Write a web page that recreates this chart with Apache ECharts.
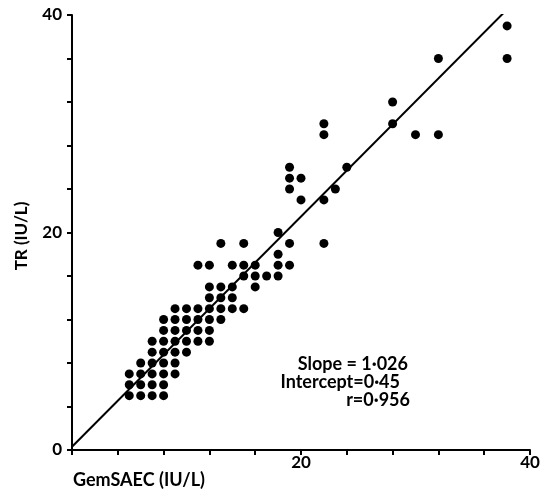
<!DOCTYPE html>
<html>
<head>
<meta charset="utf-8">
<script src="https://cdn.jsdelivr.net/npm/echarts@6/dist/echarts.min.js"></script>
<style>
  html, body { margin: 0; padding: 0; background: #fff; }
  #chart { width: 555px; height: 490px; }
</style>
</head>
<body>
<div id="chart"></div>
<script>
// GemSAEC (x) and TR (y) values, IU/L
const gemsaec = [
  5,6,7,8,
  5,6,7,8,
  5,6,7,8,9,
  6,7,8,9,
  7,8,9,10,
  7,8,9,10,11,12,
  8,9,10,11,12,
  8,9,10,11,12,13,
  9,10,11,12,13,14,15,
  12,13,14,
  12,13,14,16,
  15,16,17,18,
  11,12,14,15,16,18,19,
  18,
  13,15,19,22,
  18,
  20,22,
  19,23,
  19,20,
  19,24,
  22,30,32,
  22,28,
  28,
  32,38,
  38
];
const tr = [
  5,5,5,5,
  6,6,6,6,
  7,7,7,7,7,
  8,8,8,8,
  9,9,9,9,
  10,10,10,10,10,10,
  11,11,11,11,11,
  12,12,12,12,12,12,
  13,13,13,13,13,13,13,
  14,14,14,
  15,15,15,15,
  16,16,16,16,
  17,17,17,17,17,17,17,
  18,
  19,19,19,19,
  20,
  23,23,
  24,24,
  25,25,
  26,26,
  29,29,29,
  30,30,
  32,
  36,36,
  39
];
// drawn regression line end points
const lineX = [0, 37.7];
const lineY = [0.3, 40.2];
const yTickLabels = [0, 20, 40];
const xTickLabels = [20, 40];
const statsText = ['Slope = 1·026', 'Intercept=0·45', 'r=0·956'];

const FONT = 'Lato, "DejaVu Sans", sans-serif';
const chart = echarts.init(document.getElementById('chart'), null, { renderer: 'canvas' });

const points = gemsaec.map((x, i) => [x, tr[i]]);
const lineData = lineX.map((x, i) => [x, lineY[i]]);

chart.setOption({
  backgroundColor: '#ffffff',
  animation: false,
  grid: { left: 72, right: 25, top: 15, bottom: 40 },
  xAxis: {
    type: 'value', min: 0, max: 40, interval: 4,
    axisLine: { show: true, lineStyle: { color: '#000', width: 2 } },
    axisTick: { show: true, length: 5, lineStyle: { color: '#000', width: 2 } },
    splitLine: { show: false },
    axisLabel: {
      margin: 4, color: '#000', fontFamily: FONT, fontSize: 17, fontWeight: 'bold',
      formatter: v => xTickLabels.includes(v) ? String(v) : ''
    }
  },
  yAxis: {
    type: 'value', min: 0, max: 40, interval: 4,
    axisLine: { show: true, lineStyle: { color: '#000', width: 2 } },
    axisTick: { show: true, length: 5, lineStyle: { color: '#000', width: 2 } },
    splitLine: { show: false },
    axisLabel: {
      margin: 10, color: '#000', fontFamily: FONT, fontSize: 17, fontWeight: 'bold',
      formatter: v => yTickLabels.includes(v) ? String(v) : ''
    }
  },
  series: [
    {
      type: 'line', data: lineData, symbol: 'none',
      lineStyle: { color: '#000', width: 2 }, z: 3
    },
    {
      type: 'scatter', data: points, symbol: 'circle', symbolSize: 9,
      itemStyle: { color: '#000', opacity: 1 }, z: 4
    }
  ],
  graphic: [
    {
      type: 'text', x: 22, y: 236, rotation: Math.PI / 2,
      style: { text: 'TR (IU/L)', font: 'bold 17px ' + FONT, fill: '#000', textAlign: 'center', textVerticalAlign: 'middle' }
    },
    {
      type: 'text', x: 73, y: 480,
      style: { text: 'GemSAEC (IU/L)', font: 'bold 18px ' + FONT, fill: '#000', textAlign: 'left', textVerticalAlign: 'middle' }
    },
    {
      type: 'text', x: 408, y: 364,
      style: { text: statsText[0], font: 'bold 18px ' + FONT, fill: '#000', textAlign: 'right', textVerticalAlign: 'middle' }
    },
    {
      type: 'text', x: 400, y: 382,
      style: { text: statsText[1], font: 'bold 18px ' + FONT, fill: '#000', textAlign: 'right', textVerticalAlign: 'middle' }
    },
    {
      type: 'text', x: 410, y: 400,
      style: { text: statsText[2], font: 'bold 18px ' + FONT, fill: '#000', textAlign: 'right', textVerticalAlign: 'middle' }
    }
  ]
});
</script>
</body>
</html>
